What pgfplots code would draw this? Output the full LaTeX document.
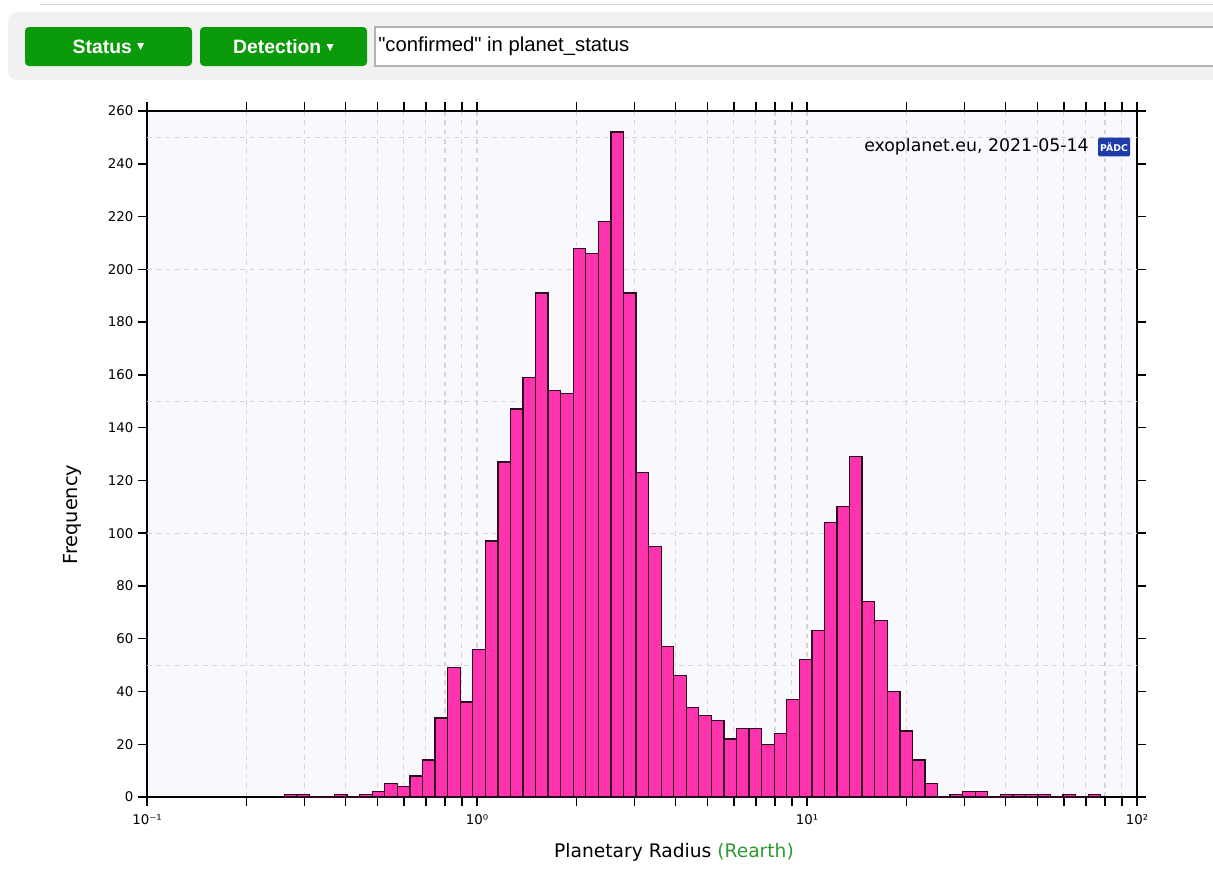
\documentclass[border=0pt]{standalone}
\usepackage{pgfplots}
\usepackage{pgfplotstable}
\pgfplotsset{compat=1.18}
\usepackage{fontspec}
\setmainfont{DejaVu Sans}
\newfontfamily\libsans{Liberation Sans}
\newfontfamily\dejavu{DejaVu Sans}
\definecolor{barpink}{HTML}{FF33AD}
\definecolor{baredge}{HTML}{2B0A1F}
\definecolor{gridgray}{HTML}{D4D4DA}
\definecolor{plotbg}{HTML}{F8F8FD}
\definecolor{btngreen}{HTML}{0A9A0A}
\definecolor{labgreen}{HTML}{2E9A2E}
\definecolor{padcblue}{HTML}{1E3CA8}
\definecolor{panelgray}{HTML}{F1F1F1}

% bin edges given as log10(R / R_earth)
\pgfplotstableread{
edge count
-0.5839 1
-0.5458 1
-0.5078 0
-0.4697 0
-0.4317 1
-0.3936 0
-0.3555 1
-0.3175 2
-0.2794 5
-0.2413 4
-0.2033 8
-0.1652 14
-0.1271 30
-0.0891 49
-0.0510 36
-0.0129 56
0.0251 97
0.0632 127
0.1013 147
0.1393 159
0.1774 191
0.2155 154
0.2535 153
0.2916 208
0.3297 206
0.3677 218
0.4058 252
0.4439 191
0.4819 123
0.5200 95
0.5581 57
0.5961 46
0.6342 34
0.6722 31
0.7103 29
0.7484 22
0.7864 26
0.8245 26
0.8626 20
0.9006 24
0.9387 37
0.9768 52
1.0148 63
1.0529 104
1.0910 110
1.1290 129
1.1671 74
1.2052 67
1.2432 40
1.2813 25
1.3194 14
1.3574 5
1.3955 0
1.4335 1
1.4716 2
1.5097 2
1.5477 0
1.5858 1
1.6239 1
1.6619 1
1.7000 1
1.7381 0
1.7761 1
1.8142 0
1.8523 1
1.8903 0
}\radiustable

\begin{document}
\begin{tikzpicture}
\path[use as bounding box] (0pt,0pt) rectangle (909.75pt,-653.25pt);
% page header strip
\draw[gray!35, line width=0.8pt] (30pt,-3.5pt) -- (915pt,-3.5pt);
\fill[panelgray, rounded corners=7pt] (6pt,-9pt) rectangle (940pt,-60pt);
\fill[btngreen, rounded corners=3pt] (18.75pt,-20.25pt) rectangle (144pt,-49.5pt);
\node[text=white, font=\libsans\bfseries\fontsize{14.5}{14.5}\selectfont] at (81.4pt,-34.9pt) {Status\hspace{4pt}\raisebox{2.5pt}{\dejavu\fontsize{7}{7}\selectfont ▼}};
\fill[btngreen, rounded corners=3pt] (150pt,-20.25pt) rectangle (275.25pt,-49.5pt);
\node[text=white, font=\libsans\bfseries\fontsize{14.5}{14.5}\selectfont] at (212.6pt,-34.9pt) {Detection\hspace{4pt}\raisebox{2.5pt}{\dejavu\fontsize{7}{7}\selectfont ▼}};
\filldraw[fill=white, draw=gray!60, line width=0.8pt] (281.25pt,-20.25pt) rectangle (915pt,-49.5pt);
\node[anchor=west, inner sep=0pt, font=\libsans\fontsize{15.2}{15.2}\selectfont] at (283.5pt,-34.9pt) {"confirmed" in planet\_status};

\begin{axis}[
  at={(110.25pt,-83.25pt)}, anchor=north west,
  scale only axis, width=742.5pt, height=514.5pt,
  xmin=-1, xmax=2, ymin=0, ymax=260,
  xtick={-1,0,1,2},
  xticklabels={10⁻¹,10⁰,10¹,10²},
  minor xtick={-0.69897,-0.52288,-0.39794,-0.30103,-0.22185,-0.15490,-0.09691,-0.04576,
               0.30103,0.47712,0.60206,0.69897,0.77815,0.84510,0.90309,0.95424,
               1.30103,1.47712,1.60206,1.69897,1.77815,1.84510,1.90309,1.95424},
  ytick={0,20,...,260},
  extra y ticks={50,100,150,200,250},
  extra y tick labels={},
  extra y tick style={ymajorgrids=true, major tick length=0pt},
  xmajorgrids, xminorgrids,
  major grid style={gridgray, dash pattern=on 3.5pt off 3.5pt, line width=0.8pt},
  minor grid style={gridgray, dash pattern=on 3.5pt off 3.5pt, line width=0.8pt},
  tick align=outside,
  major tick length=6.75pt, minor tick length=6.75pt,
  tick style={black, line width=1.1pt},
  axis line style={black, line width=1.3pt},
  axis background/.style={fill=plotbg},
  tick label style={font=\fontsize{10}{12}\selectfont},
  xticklabel style={yshift=-3pt},
  /pgf/number format/assume math mode=true,
]
\addplot[ybar interval, fill=barpink, draw=baredge, line width=1pt]
  table[x=edge, y=count] {\radiustable};
\end{axis}

\node[anchor=east, inner sep=0pt, font=\fontsize{13}{13}\selectfont] at (816.75pt,-110.25pt) {exoplanet.eu, 2021-05-14};
\node[fill=padcblue, text=white, font=\bfseries\fontsize{7}{7}\selectfont, inner sep=0pt, rounded corners=1pt,
      minimum width=24pt, minimum height=14pt] at (835.5pt,-110.25pt) {PÄDC};

\node[rotate=90, font=\fontsize{14.5}{14.5}\selectfont] at (54pt,-386pt) {Frequency};
\node[font=\fontsize{14}{14}\selectfont] at (505.5pt,-639pt) {Planetary Radius \textcolor{labgreen}{(Rearth)}};
\end{tikzpicture}
\end{document}
